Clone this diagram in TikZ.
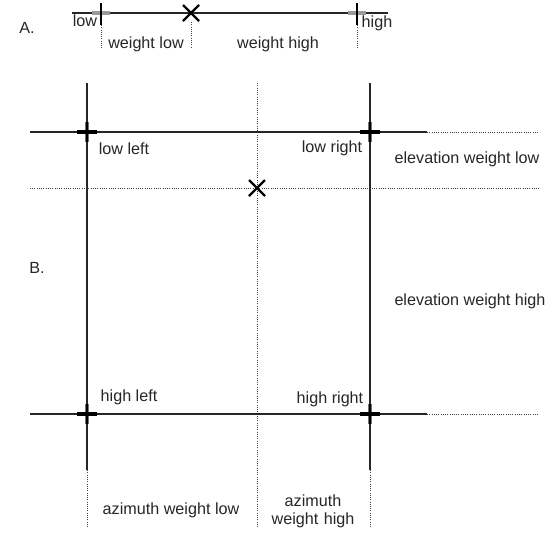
\documentclass[tikz,border=0pt]{standalone}
\usepackage{fontspec}
\setmainfont{Liberation Sans}
\usetikzlibrary{positioning}

\begin{document}
\begin{tikzpicture}[
x=0.25mm, y=-0.25mm,
label/.style={font=\fontsize{11.5}{13}\selectfont, text=black!85, inner sep=0pt, align=center},
axis/.style={line width=1.4pt, black!85},
guide/.style={densely dotted, line width=0.6pt, black!75},
hbar/.style={line width=2.4pt, black},
vbar/.style={line width=2.4pt, black!55},
xmark/.style={line width=1.7pt, black}
]
\useasboundingbox (0,0) rectangle (546,533);

% A. one axis
\coordinate (aL) at (72,13);
\coordinate (aR) at (388,13);
\coordinate (lo) at (101,13);
\coordinate (pt) at (191,13);
\coordinate (hi) at (357,13);

\draw[axis] (aL) -- (aR);
\foreach \t in {lo,hi} {
  \draw[line width=2.2pt, black!40] (\t) ++(-9,0) -- ++(18,0);
  \draw[line width=0.8pt, black] (\t) ++(0,-10) -- ++(0,22);
  \draw[guide] (\t) ++(0,12) -- ++(0,23);
}
\draw[guide] (pt) ++(0,9) -- ++(0,26);
\draw[xmark] (pt) ++(-8,-8) -- ++(16,16);
\draw[xmark] (pt) ++(-8,8) -- ++(16,-16);

\node[label] (tA) at (27,28) {A.};
\node[label] (tlow) at (85,21) {low};
\node[label] (thigh) at (377,23) {high};
\node[label] (twlow) at (146,44) {weight low};
\node[label] (twhigh) at (278,44) {weight high};

% B. two axes
\coordinate (vL) at (87,83);
\coordinate (vLe) at (87,470);
\coordinate (vLb) at (87,528);
\coordinate (vR) at (370,83);
\coordinate (vRe) at (370,470);
\coordinate (vRb) at (370,528);
\coordinate (vM) at (257,83);
\coordinate (vMb) at (257,528);

\coordinate (hT) at (30,132);
\coordinate (hTe) at (427,132);
\coordinate (hTb) at (539,132);
\coordinate (hE) at (30,188);
\coordinate (hEb) at (539,188);
\coordinate (hB) at (30,414);
\coordinate (hBe) at (427,414);
\coordinate (hBb) at (539,414);

\draw[axis] (vL) -- (vLe);
\draw[guide] (vLe) -- (vLb);
\draw[axis] (vR) -- (vRe);
\draw[guide] (vRe) -- (vRb);
\draw[guide] (vM) -- (vMb);

\draw[axis] (hT) -- (hTe);
\draw[guide] (hTe) -- (hTb);
\draw[guide] (hE) -- (hEb);
\draw[axis] (hB) -- (hBe);
\draw[guide] (hBe) -- (hBb);

% corners
\coordinate (cLL) at (87,132);
\coordinate (cLR) at (370,132);
\coordinate (cHL) at (87,414);
\coordinate (cHR) at (370,414);
\foreach \c in {cLL,cLR,cHL,cHR} {
  \draw[vbar] (\c) ++(0,-10) -- ++(0,20);
  \draw[hbar] (\c) ++(-10,0) -- ++(20,0);
  \draw[line width=1.4pt, black] (\c) ++(0,-10) -- ++(0,20);
}

% sample point
\coordinate (pB) at (257,188);
\draw[xmark] (pB) ++(-8,-8) -- ++(16,16);
\draw[xmark] (pB) ++(-8,8) -- ++(16,-16);

\node[label] (tB) at (37,268) {B.};
\node[label] (tll) at (124,149) {low left};
\node[label] (tlr) at (332,148) {low right};
\node[label] (thl) at (129,397) {high left};
\node[label] (thr) at (330,399) {high right};
\node[label] (tewl) at (467,159) {elevation weight low};
\node[label] (tewh) at (470,301) {elevation weight high};
\node[label] (tawl) at (171,510) {azimuth weight low};
\node[label, text width=25mm] (tawh) at (313,511) {azimuth\\weight high};

\end{tikzpicture}
\end{document}
